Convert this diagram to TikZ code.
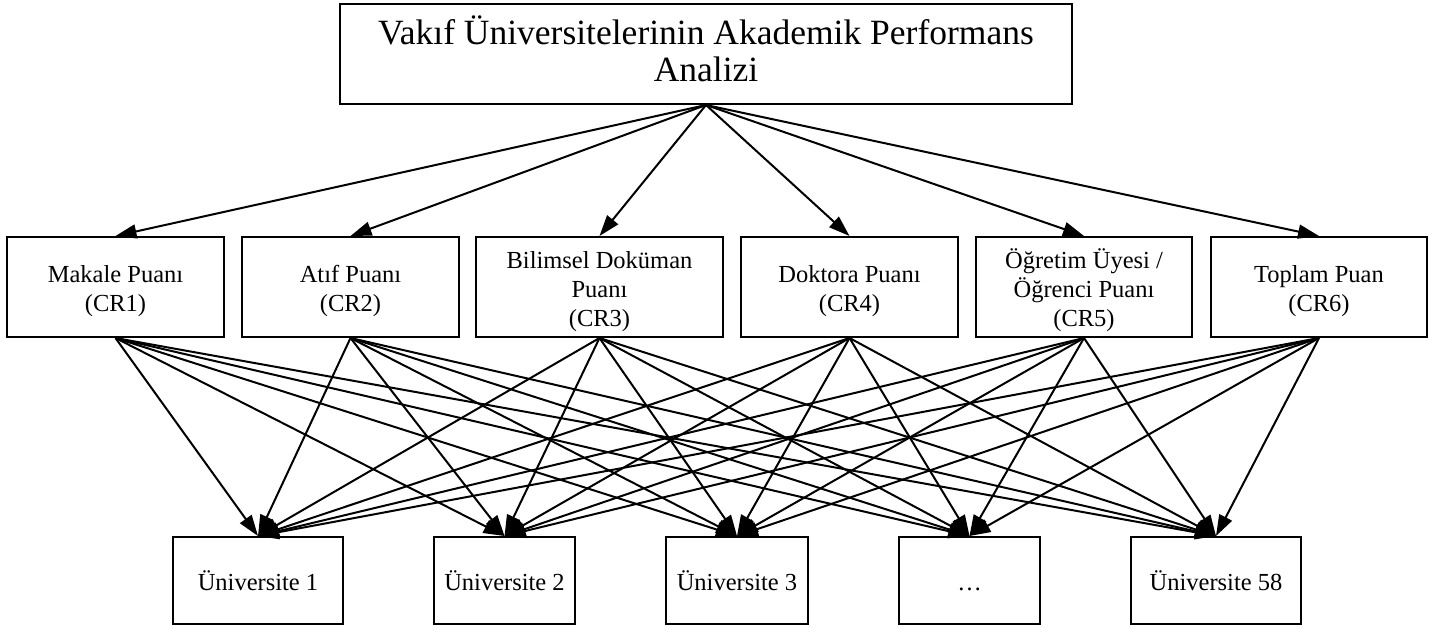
\documentclass[tikz,border=0pt]{standalone}
\usepackage{fontspec}
\setmainfont{Liberation Serif}
\usetikzlibrary{arrows.meta}

\begin{document}
\begin{tikzpicture}[x=1pt,y=-1pt,
        box/.style={draw, line width=2pt, rectangle, inner sep=0pt, align=center,
            minimum height=100pt, font=\fontsize{24.5}{28.8}\selectfont},
        unibox/.style={box, minimum height=87pt, text depth=6pt},
        edge/.style={-{Triangle[length=21pt,width=14pt]}, line width=2pt}]
            \useasboundingbox (0,0) rectangle (1437,627);

            \node[box, minimum width=732pt, font=\fontsize{35.5}{37}\selectfont,
                execute at end node={\rule[-11pt]{0pt}{11pt}}] (goal) at (706,54)
                {Vakıf Üniversitelerinin Akademik Performans\\Analizi};

            \foreach \x/\w/\name/\label in {115.5/217/cr1/{Makale Puanı\\(CR1)},
                    350.5/217/cr2/{Atıf Puanı\\(CR2)},
                    599.5/247/cr3/{Bilimsel Doküman\\Puanı\\(CR3)},
                    849.5/217/cr4/{Doktora Puanı\\(CR4)},
                    1084/216/cr5/{Öğretim Üyesi /\\Öğrenci Puanı\\(CR5)},
                    1319/216/cr6/{Toplam Puan\\(CR6)}}
                \node[box, minimum width=\w pt] (\name) at (\x,287) {\rule{0pt}{26pt}\label};

            \foreach \x/\w/\name/\label in {258/170/uni1/{Üniversite 1},
                    504.5/141/uni2/{Üniversite 2},
                    737/142/uni3/{Üniversite 3},
                    969.5/141/uni4/{…},
                    1216/170/uni5/{Üniversite 58}}
                \node[unibox, minimum width=\w pt] (\name) at (\x,580.5) {\rule{0pt}{26pt}\label};

            \foreach \i in {1,...,6}
                \draw[edge] (goal.south) -- (cr\i.north);

            \foreach \i in {1,...,6}
                \foreach \j in {1,...,5}
                    \draw[edge] (cr\i.south) -- (uni\j.north);
\end{tikzpicture}
\end{document}
